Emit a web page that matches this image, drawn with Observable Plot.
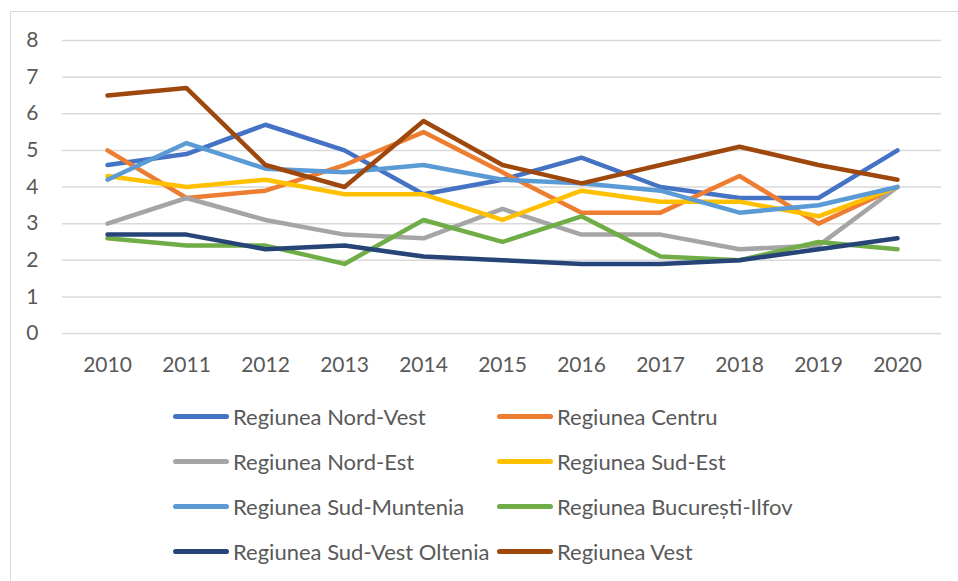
<!DOCTYPE html>
<html>
<head>
<meta charset="utf-8">
<script src="https://cdn.jsdelivr.net/npm/d3@7"></script>
<script src="https://cdn.jsdelivr.net/npm/@observablehq/plot@0.6"></script>
<style>
  html, body { margin: 0; padding: 0; background: #fff; }
  #wrap { position: relative; width: 958px; height: 581px; overflow: hidden; font-family: Lato, "Open Sans", sans-serif; }
  #frame { position: absolute; left: 10px; top: 11px; width: 1000px; height: 700px; border-left: 1.5px solid #D9D9D9; border-top: 1.5px solid #D9D9D9; }
  #chart { position: absolute; left: 0; top: 0; }
  #legend { position: absolute; left: 173px; top: 394px; display: grid; grid-template-columns: 324px 324px; grid-auto-rows: 45px; }
  .item { display: flex; align-items: center; font-size: 22px; color: #595959; white-space: nowrap; }
  .sw { width: 56px; height: 5px; border-radius: 3px; margin-right: 4px; flex: none; }
</style>
</head>
<body>
<div id="wrap">
  <div id="frame"></div>
  <div id="chart"></div>
  <div id="legend"></div>
</div>
<script>
const years = [2010, 2011, 2012, 2013, 2014, 2015, 2016, 2017, 2018, 2019, 2020];
const seriesNames = [
  "Regiunea Nord-Vest", "Regiunea Centru",
  "Regiunea Nord-Est", "Regiunea Sud-Est",
  "Regiunea Sud-Muntenia", "Regiunea București-Ilfov",
  "Regiunea Sud-Vest Oltenia", "Regiunea Vest"
];
const colors = ["#4472C4", "#ED7D31", "#A5A5A5", "#FFC000", "#5B9BD5", "#70AD47", "#264478", "#9E480E"];

const nordVest      = [4.6, 4.9, 5.7, 5.0, 3.8, 4.2, 4.8, 4.0, 3.7, 3.7, 5.0];
const centru        = [5.0, 3.7, 3.9, 4.6, 5.5, 4.4, 3.3, 3.3, 4.3, 3.0, 4.0];
const nordEst       = [3.0, 3.7, 3.1, 2.7, 2.6, 3.4, 2.7, 2.7, 2.3, 2.4, 4.0];
const sudEst        = [4.3, 4.0, 4.2, 3.8, 3.8, 3.1, 3.9, 3.6, 3.6, 3.2, 4.0];
const sudMuntenia   = [4.2, 5.2, 4.5, 4.4, 4.6, 4.2, 4.1, 3.9, 3.3, 3.5, 4.0];
const bucurestiIlfov= [2.6, 2.4, 2.4, 1.9, 3.1, 2.5, 3.2, 2.1, 2.0, 2.5, 2.3];
const sudVestOltenia= [2.7, 2.7, 2.3, 2.4, 2.1, 2.0, 1.9, 1.9, 2.0, 2.3, 2.6];
const vest          = [6.5, 6.7, 4.6, 4.0, 5.8, 4.6, 4.1, 4.6, 5.1, 4.6, 4.2];

const yTicks = [0, 1, 2, 3, 4, 5, 6, 7, 8];

const seriesValues = [nordVest, centru, nordEst, sudEst, sudMuntenia, bucurestiIlfov, sudVestOltenia, vest];
const data = [];
seriesNames.forEach((name, i) => {
  years.forEach((yr, j) => data.push({series: name, year: yr, value: seriesValues[i][j]}));
});

const chart = Plot.plot({
  width: 958,
  height: 390,
  marginLeft: 62,
  marginRight: 17,
  marginTop: 40,
  marginBottom: 57,
  style: {fontFamily: "Lato, 'Open Sans', sans-serif", background: "transparent"},
  x: {type: "point", domain: years, padding: 0.5},
  y: {domain: [0, 8]},
  color: {domain: seriesNames, range: colors},
  marks: [
    Plot.ruleY(yTicks, {stroke: "#D9D9D9", strokeWidth: 1.5}),
    Plot.axisY({ticks: yTicks, tickSize: 0, tickPadding: 24, fontSize: 21, fill: "#595959", label: null}),
    Plot.axisX({tickSize: 0, tickPadding: 24, fontSize: 21, fill: "#595959", label: null, tickFormat: d => String(d)}),
    Plot.line(data, {x: "year", y: "value", z: "series", stroke: "series", strokeWidth: 4.5, strokeLinejoin: "round", strokeLinecap: "round"})
  ]
});
document.getElementById("chart").appendChild(chart);

const legend = document.getElementById("legend");
seriesNames.forEach((name, i) => {
  const item = document.createElement("div");
  item.className = "item";
  const sw = document.createElement("span");
  sw.className = "sw";
  sw.style.background = colors[i];
  item.appendChild(sw);
  item.appendChild(document.createTextNode(name));
  legend.appendChild(item);
});
</script>
</body>
</html>
